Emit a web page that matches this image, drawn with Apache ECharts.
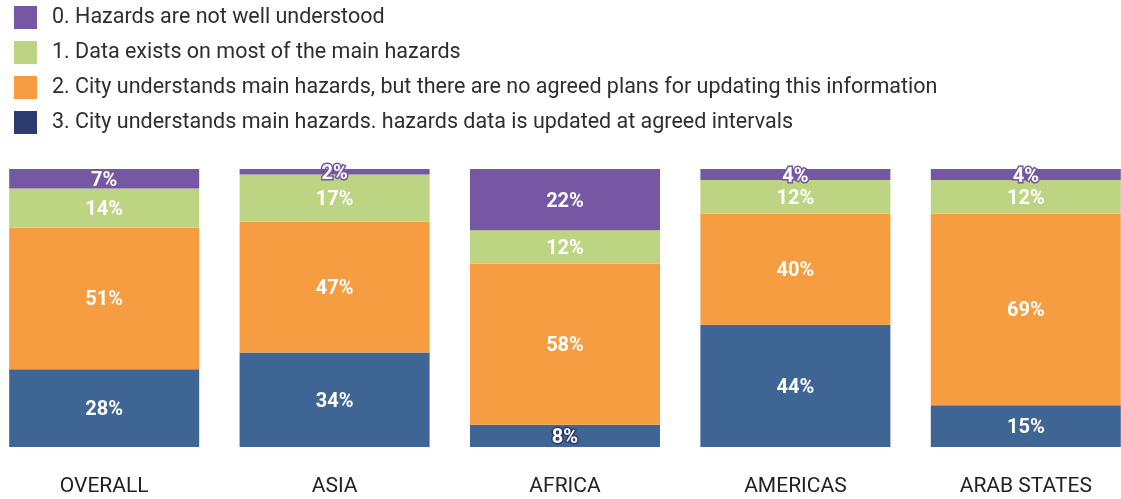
<!DOCTYPE html>
<html>
<head>
<meta charset="utf-8">
<script src="https://cdn.jsdelivr.net/npm/echarts@6/dist/echarts.min.js"></script>
<style>
  html, body { margin: 0; padding: 0; background: #fff; overflow: hidden; }
  #wrap { position: relative; width: 1121px; height: 499px; overflow: hidden; }
  /* the plot is a little wider than the page so the outer bars touch both edges */
  #chart { position: absolute; left: -11px; top: 0; width: 1152px; height: 499px; }
</style>
</head>
<body>
<div id="wrap"><div id="chart"></div></div>
<script>
// Regions shown along the x axis
const regions = ['OVERALL', 'ASIA', 'AFRICA', 'AMERICAS', 'ARAB STATES'];

// Share of cities (%) at each hazard-understanding level
const level0 = [7, 2, 22, 4, 4];
const level1 = [14, 17, 12, 12, 12];
const level2 = [51, 47, 58, 40, 69];
const level3 = [28, 34, 8, 44, 15];

const levelNames = [
  '0. Hazards are not well understood',
  '1. Data exists on most of the main hazards',
  '2. City understands main hazards, but there are no agreed plans for updating this information',
  '3. City understands main hazards. hazards data is updated at agreed intervals'
];

const barColors = ['#7657a3', '#bdd482', '#f69d41', '#3f6594'];
const legendColors = ['#7657a3', '#bdd482', '#f69d41', '#2b3a6f'];

// Thin segments get an outlined label so the text stays readable past the bar edge
function buildData(values, idx) {
  return values.map(v => {
    const item = { value: v };
    if (v <= 8) {
      item.label = { textBorderColor: legendColors[idx], textBorderWidth: 3 };
    }
    return item;
  });
}

const seriesValues = [level3, level2, level1, level0];
const seriesIdx = [3, 2, 1, 0];

const series = seriesValues.map((vals, k) => {
  const idx = seriesIdx[k];
  return {
    name: levelNames[idx],
    type: 'bar',
    stack: 'total',
    barWidth: 190,
    itemStyle: { color: barColors[idx] },
    label: {
      show: true,
      position: 'inside',
      offset: [0, 2],
      formatter: '{c}%',
      color: '#fff',
      fontFamily: 'Roboto',
      fontWeight: 'bold',
      fontSize: 20
    },
    emphasis: { disabled: true },
    data: buildData(vals, idx)
  };
});

const chart = echarts.init(document.getElementById('chart'), null, { renderer: 'canvas' });
chart.setOption({
  animation: false,
  backgroundColor: '#fff',
  legend: {
    orient: 'vertical',
    left: 20,
    top: 1,
    itemWidth: 23,
    itemHeight: 23,
    itemGap: 12,
    icon: 'rect',
    selectedMode: false,
    textStyle: {
      fontFamily: 'Roboto',
      fontSize: 21.5,
      color: '#2e2e2e',
      padding: [0, 0, 0, 10]
    },
    data: levelNames.map((n, i) => ({ name: n, itemStyle: { color: legendColors[i] } }))
  },
  grid: { left: 0, right: 0, top: 169, bottom: 52, containLabel: false },
  xAxis: {
    type: 'category',
    data: regions,
    axisLine: { show: false },
    axisTick: { show: false },
    axisLabel: {
      margin: 29,
      fontFamily: 'Roboto',
      fontSize: 21,
      color: '#222'
    }
  },
  yAxis: {
    type: 'value',
    min: 0,
    max: 100,
    show: false
  },
  series: series
});
</script>
</body>
</html>
